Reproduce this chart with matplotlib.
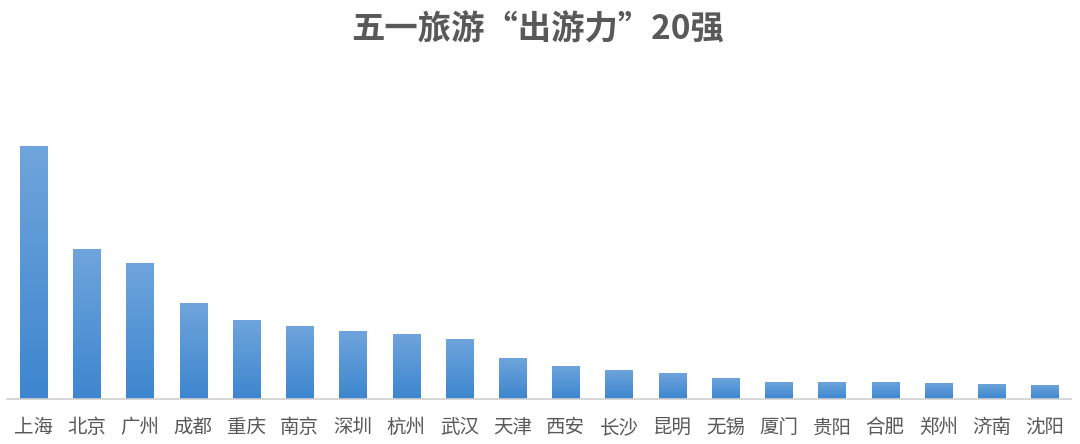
import numpy as np
import matplotlib
matplotlib.use("Agg")
import matplotlib.pyplot as plt
from matplotlib.colors import LinearSegmentedColormap

plt.rcParams["font.family"] = ["Noto Sans CJK SC", "DejaVu Sans"]

TITLE = "五一旅游“出游力”20强"
cities = ["上海", "北京", "广州", "成都", "重庆", "南京", "深圳", "杭州", "武汉", "天津",
          "西安", "长沙", "昆明", "无锡", "厦门", "贵阳", "合肥", "郑州", "济南", "沈阳"]
# relative index (no axis in the original)
values = [253, 150, 136, 96, 79, 73, 68, 65, 60, 41,
          33, 29, 26, 21, 17, 17, 17, 16, 15, 14]

fig = plt.figure(figsize=(10.8, 4.44), dpi=100)
ax = fig.add_axes([0.0065, 0.101, 0.9855, 0.58])

x = np.arange(len(cities))
bars = ax.bar(x, values, width=0.51, color="none", edgecolor="none")

# vertical gradient, lighter at the top
grad = LinearSegmentedColormap.from_list("g", ["#3d86cf", "#6fa5dc"])
img = np.linspace(0, 1, 256).reshape(-1, 1)
for b in bars:
    bx, by = b.get_x(), b.get_y()
    w, h = b.get_width(), b.get_height()
    im = ax.imshow(img, cmap=grad, origin="lower", aspect="auto",
                   extent=[bx, bx + w, by, by + h], zorder=2)
    im.set_clip_path(b)

ax.set_xlim(-0.5, len(cities) - 0.5)
ax.set_ylim(0, 257.5)
ax.set_xticks(x)
ax.set_xticklabels(cities, fontsize=14, color="#595959")
ax.tick_params(axis="x", length=0, pad=13)
ax.set_yticks([])
for s in ["top", "right", "left"]:
    ax.spines[s].set_visible(False)
ax.spines["bottom"].set_color("#d0d0d0")
ax.spines["bottom"].set_linewidth(1.2)

fig.text(0.498, 0.932, TITLE, ha="center", va="center", fontsize=24,
         fontweight="bold", color="#595959")

fig.savefig("out.png", dpi=100, facecolor="white")
